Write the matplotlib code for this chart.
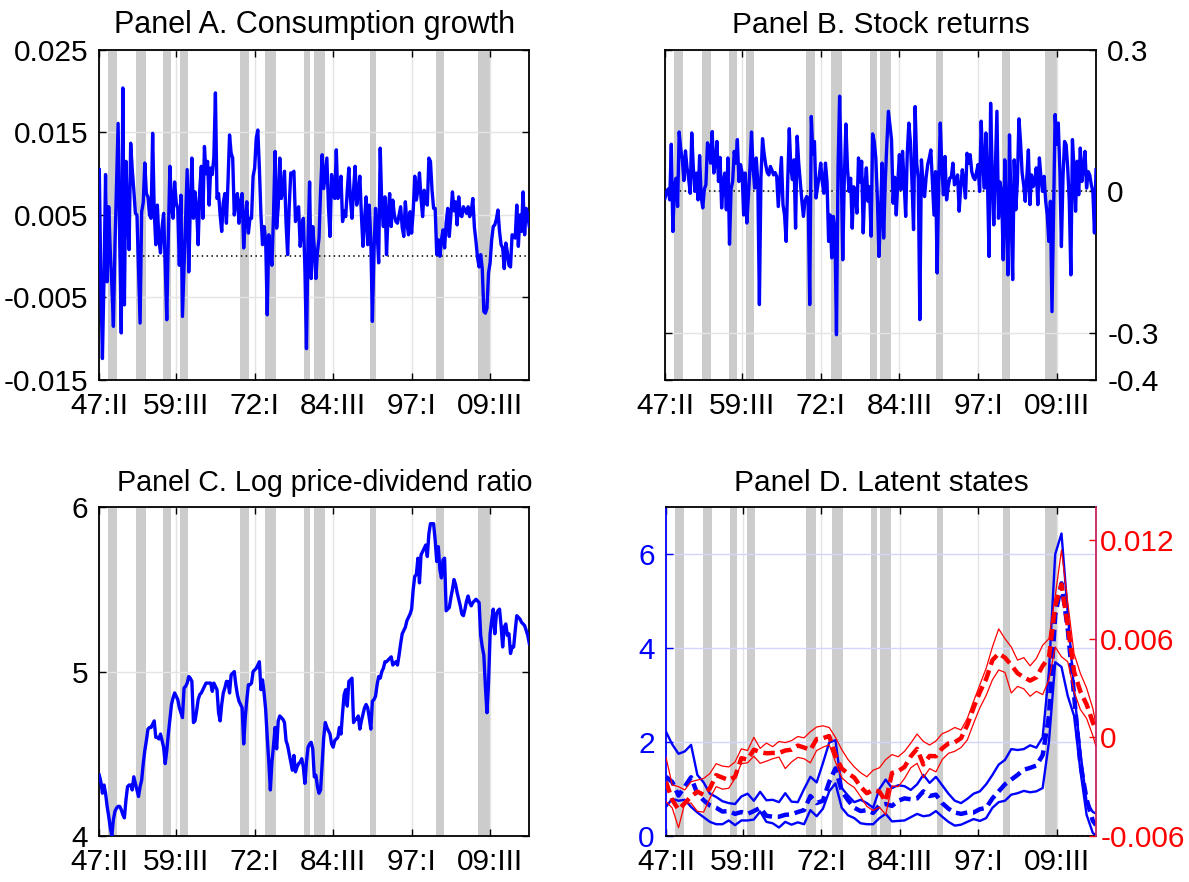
import numpy as np
import matplotlib
matplotlib.use('Agg')
import matplotlib.pyplot as plt

plt.rcParams['font.family'] = ['Liberation Sans', 'DejaVu Sans']

# time axis: quarter index, 0 = 1947:II
tick_pos = [0, 49, 99, 149, 199, 249]
tick_lab = ['47:II', '59:III', '72:I', '84:III', '97:I', '09:III']

# NBER recessions (peak / trough quarter index)
rec_start = [6, 24, 41, 52, 90, 106, 131, 137, 173, 215, 242]
rec_end = [10, 28, 44, 55, 94, 111, 133, 142, 175, 218, 248]

# Panel A, consumption growth (x 1e-3)
cons_growth = np.array([
    10.5, -3.0, -12.4, -2.7, 9.9, -3.1, 6.0, 0.6, -3.5, -8.5,
    1.5, 9.0, 16.1, 2.0, -9.3, 20.4, -5.9, 11.5, 5.0, 0.8,
    13.7, 10.5, 8.0, 5.2, 5.0, -1.5, -8.1, 5.4, 6.5, 11.3,
    7.6, 7.2, 5.0, 4.6, 14.9, 5.5, 1.4, 6.2, 2.0, 0.4,
    3.5, 5.2, -1.0, -7.7, 2.5, 10.9, 6.0, 4.6, 9.0, 6.5,
    5.8, -1.1, 7.4, -7.3, -1.5, 4.5, 10.5, -1.9, 6.0, 11.9,
    4.6, 7.8, 5.8, 1.4, 8.0, 10.9, 4.6, 13.3, 10.0, 11.5,
    6.2, 10.7, 9.9, 12.0, 19.8, 7.0, 7.6, 5.0, 3.0, 6.5,
    7.6, 4.0, 9.0, 14.7, 12.5, 11.9, 5.0, 6.5, 7.6, 4.0,
    6.5, 7.6, 1.0, 4.5, 6.6, 2.8, 4.6, 4.6, 9.7, 10.7,
    14.3, 15.3, 10.7, 5.0, 1.4, 3.6, 2.0, -7.1, 2.6, 0.5,
    -1.1, 5.0, 12.7, 3.4, 6.0, 11.9, 7.0, 8.0, 10.3, 4.0,
    0.2, 6.0, 10.1, 10.0, 10.3, 4.2, 5.5, 6.0, 1.2, 3.5,
    4.6, -1.5, -11.2, 2.0, 9.0, -2.7, 3.6, 1.0, -2.7, 0.5,
    2.2, 8.0, 12.3, 8.2, 10.0, 11.9, 6.0, 2.4, 9.9, 7.5,
    7.0, 12.9, 7.0, 8.0, 9.7, 4.2, 5.5, 4.8, 8.0, 10.7,
    7.0, 4.6, 8.0, 10.9, 6.2, 7.5, 9.7, 5.0, 1.2, 4.5,
    7.2, 1.4, 6.2, 2.0, -7.9, 0.5, 5.8, 3.0, -0.8, 13.1,
    6.0, 3.6, 7.2, 0.2, 5.0, 7.6, 3.6, 6.8, 5.0, 4.2,
    4.0, 5.0, 6.0, 3.5, 2.4, 6.6, 4.0, 2.6, 5.4, 2.8,
    5.5, 9.7, 6.8, 8.0, 10.1, 7.0, 4.8, 8.0, 6.5, 6.2,
    11.9, 11.5, 8.0, 5.8, 5.8, 0.2, 2.0, 0.0, 2.0, 3.2,
    1.0, 4.0, 5.8, 2.4, 5.0, 7.8, 5.5, 6.6, 3.8, 7.2,
    5.0, 4.8, 6.0, 5.6, 5.2, 6.0, 4.8, 5.5, 7.0, 3.5,
    1.8, -0.2, -1.3, 0.2, -1.5, -6.7, -6.9, -6.3, -2.0, -0.8,
    2.0, 3.6, 3.8, 4.5, 5.6, 3.0, 1.4, 1.0, -1.5, 1.6,
    0.5, -1.1, -1.3, 2.6, 2.5, 2.2, 6.2, 1.2, 5.0, 3.0,
    7.8, 2.6, 5.8, 5.0, 3.6]) / 1000

# Panel B, stock returns (percent)
stock_ret = np.array([
    -1.4, 0.0, 0.5, -1.8, 10.0, -8.5, 1.0, 2.8, -3.2, 12.6,
    9.0, 6.7, 2.3, 8.6, 5.0, 2.8, -0.4, 12.4, 5.0, 0.0,
    3.9, -1.8, 7.6, -1.1, -3.5, 0.5, 1.4, 10.3, 9.2, 6.0,
    12.7, 3.9, 6.0, 10.6, 2.1, 7.2, -3.5, 2.0, 3.9, -3.9,
    7.1, -11.2, 0.5, 2.1, 8.5, 6.0, 11.0, 2.1, 5.7, 4.0,
    -5.0, 3.9, -6.7, -1.1, 5.0, 12.6, 5.0, 0.7, 7.1, 2.0,
    -24.0, 3.0, 11.2, 8.0, 5.7, 4.0, 3.5, 5.3, 4.5, 3.5,
    4.0, 3.2, -3.2, 2.0, 7.2, -2.8, -5.0, -10.6, 2.0, 13.3,
    5.0, 2.5, 6.7, -7.8, 11.7, 6.0, 2.1, -2.0, -5.3, -2.0,
    -1.1, -1.4, -24.0, 15.9, 8.0, 10.6, -1.4, 1.0, 3.2, 6.0,
    2.0, -0.4, 6.0, 2.0, -10.6, -5.0, -14.1, -5.3, -8.0, -30.4,
    5.0, 20.2, 5.0, -14.5, 3.0, 14.3, 5.0, 0.0, 2.8, -7.8,
    1.0, 0.0, -4.6, 7.1, 2.0, 6.4, -8.8, 1.0, 5.0, -2.1,
    1.0, -9.5, 12.2, 10.6, 7.1, -1.4, -13.8, -5.0, 6.0, -9.9,
    2.0, 9.9, 17.0, 14.0, 11.0, -2.5, 3.0, -5.0, 2.0, 7.8,
    0.4, 8.5, 2.0, -5.3, 8.0, 14.5, 10.6, 2.0, -8.1, 18.0,
    6.0, 2.8, -27.2, 6.7, 2.0, -1.1, 3.0, 5.7, 7.1, 8.8,
    2.0, -5.0, 4.2, -17.3, 2.0, 14.5, 5.0, -0.7, 7.4, -1.8,
    1.0, 2.8, 3.0, 6.0, 1.4, 2.0, 3.5, -4.2, 1.0, 4.6,
    2.0, -1.4, 8.1, 6.0, 7.8, 4.2, 3.0, 2.5, 4.0, 5.7,
    0.0, 14.9, 6.0, 0.7, 12.4, 2.1, -13.8, 18.7, 3.5, -7.1,
    5.0, 17.0, -5.7, 2.0, -0.4, -14.5, 6.7, -5.0, -17.7, 12.0,
    -4.2, -18.7, 6.7, -3.9, 2.0, 15.4, 10.6, 4.0, 1.4, -2.1,
    3.0, 8.8, -2.8, 3.5, 1.0, 1.8, 5.0, -2.8, 7.1, 3.0,
    0.0, 3.2, -2.1, -5.0, -10.6, -2.1, -25.5, -5.0, 16.3, 10.0,
    14.5, 4.6, -11.7, 3.0, 10.6, 9.9, 5.0, -2.0, -17.7, 11.0,
    5.0, -4.2, 6.4, -0.7, 9.2, 2.1, 5.0, 8.5, 0.7, 4.2,
    3.5, 1.4, 0.0, -8.8, 4.6]) / 100

# Panel C, log price-dividend ratio
log_pd = np.array([
    4.37, 4.33, 4.26, 4.31, 4.26, 4.18, 4.12, 4.05, 4.00, 4.10,
    4.15, 4.17, 4.18, 4.18, 4.16, 4.13, 4.11, 4.22, 4.30, 4.31,
    4.31, 4.28, 4.36, 4.32, 4.28, 4.24, 4.30, 4.34, 4.44, 4.52,
    4.58, 4.65, 4.66, 4.66, 4.68, 4.70, 4.60, 4.60, 4.59, 4.62,
    4.58, 4.54, 4.44, 4.52, 4.62, 4.71, 4.80, 4.84, 4.87, 4.85,
    4.83, 4.78, 4.75, 4.72, 4.90, 4.91, 4.93, 4.97, 4.96, 4.94,
    4.69, 4.70, 4.76, 4.83, 4.86, 4.87, 4.89, 4.91, 4.93, 4.93,
    4.93, 4.93, 4.88, 4.93, 4.91, 4.89, 4.75, 4.70, 4.80, 4.87,
    4.90, 4.94, 4.94, 4.87, 4.98, 4.99, 5.00, 4.92, 4.86, 4.82,
    4.80, 4.78, 4.56, 4.72, 4.83, 4.92, 4.92, 4.93, 5.00, 5.01,
    5.02, 5.04, 5.06, 4.89, 4.95, 4.87, 4.77, 4.60, 4.45, 4.28,
    4.45, 4.55, 4.66, 4.53, 4.70, 4.73, 4.72, 4.71, 4.69, 4.58,
    4.55, 4.50, 4.45, 4.40, 4.49, 4.39, 4.42, 4.44, 4.45, 4.47,
    4.42, 4.32, 4.45, 4.54, 4.56, 4.57, 4.53, 4.36, 4.37, 4.30,
    4.26, 4.28, 4.44, 4.60, 4.69, 4.66, 4.64, 4.62, 4.56, 4.54,
    4.58, 4.59, 4.60, 4.66, 4.62, 4.75, 4.86, 4.89, 4.79, 4.94,
    4.95, 4.96, 4.69, 4.71, 4.71, 4.73, 4.65, 4.70, 4.74, 4.78,
    4.80, 4.78, 4.72, 4.65, 4.82, 4.83, 4.85, 4.92, 4.97, 4.96,
    5.00, 5.02, 5.06, 5.06, 5.07, 5.08, 5.09, 5.04, 5.05, 5.06,
    5.04, 5.10, 5.17, 5.23, 5.25, 5.27, 5.31, 5.33, 5.35, 5.38,
    5.50, 5.58, 5.59, 5.69, 5.54, 5.71, 5.73, 5.75, 5.77, 5.70,
    5.84, 5.90, 5.90, 5.90, 5.80, 5.67, 5.76, 5.62, 5.57, 5.68,
    5.69, 5.37, 5.38, 5.39, 5.45, 5.50, 5.56, 5.53, 5.48, 5.44,
    5.40, 5.35, 5.34, 5.38, 5.43, 5.46, 5.42, 5.40, 5.42, 5.43,
    5.44, 5.43, 5.42, 5.22, 5.15, 5.10, 4.91, 4.75, 4.93, 5.23,
    5.31, 5.38, 5.23, 5.35, 5.37, 5.38, 5.28, 5.15, 5.27, 5.29,
    5.22, 5.23, 5.11, 5.15, 5.15, 5.25, 5.34, 5.33, 5.32, 5.30,
    5.29, 5.28, 5.25, 5.22, 5.17])

# Panel D, latent states, read every 4th quarter
qd = np.r_[np.arange(0, 273, 4), 274]
vol_hi = [2.22, 1.95, 1.75, 1.80, 1.94, 1.30, 1.14, 0.90, 0.83, 0.74,
          0.70, 0.68, 0.84, 0.90, 0.75, 0.94, 0.76, 0.77, 0.72, 0.91,
          0.73, 0.72, 1.00, 1.26, 1.14, 1.55, 1.99, 2.04, 1.02, 0.86,
          0.72, 0.77, 0.70, 0.60, 1.00, 1.20, 1.02, 1.08, 1.06, 0.98,
          1.10, 1.30, 1.13, 1.26, 1.08, 0.90, 0.75, 0.70, 0.79, 0.90,
          0.95, 1.10, 1.30, 1.52, 1.62, 1.85, 1.83, 1.85, 1.93, 1.88,
          2.10, 3.50, 6.00, 6.44, 4.75, 3.10, 1.80, 0.72, 0.51, 0.48]
vol_med = [1.26, 1.15, 0.86, 1.05, 1.25, 0.90, 0.76, 0.65, 0.60, 0.52,
           0.53, 0.47, 0.51, 0.47, 0.53, 0.60, 0.43, 0.41, 0.41, 0.45,
           0.46, 0.51, 0.55, 0.85, 0.70, 0.75, 1.15, 1.44, 0.96, 0.76,
           0.60, 0.53, 0.55, 0.49, 0.65, 0.68, 0.64, 0.75, 0.80, 0.78,
           0.80, 0.95, 0.85, 0.88, 0.70, 0.58, 0.50, 0.47, 0.50, 0.50,
           0.57, 0.60, 0.80, 0.95, 1.10, 1.20, 1.30, 1.41, 1.45, 1.50,
           1.72, 2.55, 4.70, 5.38, 4.40, 3.00, 1.55, 0.78, 0.32, 0.23]
vol_lo = [0.62, 0.79, 0.75, 0.77, 0.62, 0.50, 0.40, 0.30, 0.25, 0.25,
          0.33, 0.23, 0.33, 0.33, 0.35, 0.52, 0.30, 0.27, 0.18, 0.30,
          0.24, 0.29, 0.25, 0.55, 0.42, 0.58, 0.95, 1.12, 0.60, 0.44,
          0.38, 0.27, 0.25, 0.25, 0.38, 0.47, 0.31, 0.32, 0.33, 0.40,
          0.47, 0.42, 0.44, 0.53, 0.41, 0.30, 0.22, 0.24, 0.30, 0.36,
          0.32, 0.38, 0.60, 0.72, 0.75, 0.88, 0.91, 0.96, 0.93, 0.95,
          1.02, 2.00, 3.70, 3.60, 2.98, 2.56, 1.40, 0.45, 0.06, 0.02]
# expected growth state (x 1e-3)
mu_hi = [-1.2, -2.9, -3.0, -3.2, -2.7, -2.6, -2.5, -2.2, -1.6, -1.75,
         -1.8, -1.5, -0.7, -0.8, 0.0, -0.67, -0.35, -0.57, -0.25, -0.32,
         -0.2, 0.05, -0.03, 0.34, 0.63, 0.70, 0.60, 0.0, -0.75, -1.35,
         -1.8, -2.15, -2.4, -2.0, -1.85, -1.35, -1.05, -1.18, -0.85, -0.35,
         0.2, -0.25, -0.47, -0.22, 0.22, 0.38, 0.6, 0.45, 1.15, 2.2,
         3.2, 4.2, 5.5, 6.6, 6.0, 5.5, 4.7, 4.85, 4.35, 4.8,
         5.6, 6.0, 8.6, 11.4, 8.2, 5.1, 3.9, 3.0, 1.75, 0.75]
mu_med = [-2.7, -3.8, -4.4, -4.0, -3.6, -3.3, -3.5, -3.1, -2.3, -2.45,
          -2.6, -2.4, -1.27, -1.35, -0.75, -0.9, -0.97, -0.95, -0.95, -0.8,
          -0.75, -0.5, -0.62, -0.77, -0.1, -0.05, 0.08, -1.1, -1.9, -2.2,
          -2.45, -3.0, -3.4, -3.2, -3.3, -3.9, -2.17, -2.05, -1.8, -1.15,
          -0.7, -1.65, -1.13, -1.15, -0.67, -0.37, -0.3, -0.05, 0.75, 1.8,
          2.75, 3.55, 4.7, 5.1, 4.85, 4.4, 3.9, 3.65, 3.45, 3.65,
          4.35, 4.85, 8.0, 9.3, 6.8, 4.0, 2.8, 2.0, 0.9, 0.44]
mu_lo = [-3.9, -4.3, -5.5, -4.0, -4.0, -4.5, -4.55, -3.7, -3.0, -3.15,
         -3.1, -2.5, -1.6, -1.55, -1.15, -1.58, -1.45, -1.3, -1.2, -1.9,
         -1.5, -1.22, -1.3, -1.55, -0.8, -0.6, -0.45, -1.5, -2.45, -2.8,
         -3.05, -3.6, -4.2, -4.45, -4.25, -4.7, -2.95, -3.0, -2.5, -1.85,
         -1.58, -2.45, -1.9, -2.1, -1.35, -0.97, -0.85, -0.62, -0.16, 0.85,
         1.8, 2.55, 3.5, 4.1, 3.95, 2.7, 3.1, 2.95, 2.5, 2.8,
         2.6, 3.5, 5.5, 4.9, 4.6, 2.8, 1.7, 1.15, 0.1, -0.57]

FS = 21.5
q = np.arange(len(cons_growth))


def setup(ax, title, gridcol='#e4e4e4', tsize=FS):
    for s, e in zip(rec_start, rec_end):
        ax.axvspan(s - 0.5, e + 1.5, color='#cccccc', lw=0, zorder=0)
    ax.set_xlim(0, 274)
    ax.set_xticks(tick_pos)
    ax.set_xticklabels(tick_lab)
    ax.xaxis.grid(True, color='#e4e4e4', lw=1)
    ax.yaxis.grid(True, color=gridcol, lw=1)
    ax.set_axisbelow(True)
    ax.tick_params(direction='in', length=5, width=1, top=True, right=True,
                   labelsize=FS, pad=8)
    ax.tick_params(axis='x', pad=9)
    ax.set_title(title, fontsize=tsize, pad=12)
    for sp in ax.spines.values():
        sp.set_linewidth(1.3)


fig = plt.figure(figsize=(11.89, 8.82), dpi=100)
axA = fig.add_axes([0.0835, 0.5692, 0.3617, 0.3741])
axB = fig.add_axes([0.5593, 0.5692, 0.3625, 0.3741])
axC = fig.add_axes([0.0835, 0.0522, 0.3617, 0.3727])
axD = fig.add_axes([0.5601, 0.0522, 0.3617, 0.3727])

# A
setup(axA, 'Panel A. Consumption growth', tsize=22)
axA.axhline(0, color='k', lw=1.1, ls=(0, (1, 2.2)), zorder=1)
axA.plot(q, cons_growth, color='#0000ff', lw=2.4, zorder=3)
axA.set_ylim(-0.015, 0.025)
axA.set_yticks([-0.015, -0.005, 0.005, 0.015, 0.025])
axA.set_yticklabels(['-0.015', '-0.005', '0.005', '0.015', '0.025'])

# B
setup(axB, 'Panel B. Stock returns')
axB.axhline(0, color='k', lw=1.1, ls=(0, (1, 2.2)), zorder=1)
axB.plot(q, stock_ret, color='#0000ff', lw=2.4, zorder=3)
axB.set_ylim(-0.4, 0.3)
axB.set_yticks([-0.4, -0.3, 0, 0.3])
axB.set_yticklabels(['-0.4', '-0.3', '0', '0.3'])
axB.tick_params(axis='y', labelleft=False, labelright=True)

# C
setup(axC, 'Panel C. Log price-dividend ratio', tsize=20.6)
axC.title.set_position((0.525, 1.0))
axC.plot(q, log_pd, color='#0000ff', lw=2.4, zorder=3)
axC.set_ylim(4, 6)
axC.set_yticks([4, 5, 6])

# D
setup(axD, 'Panel D. Latent states', gridcol='#d4d4ff')
axD.set_ylim(0, 7)
axD.set_yticks([0, 2, 4, 6])
axD.tick_params(axis='y', colors='blue', labelcolor='blue')
axD.spines['left'].set_color('blue')
axD.spines['right'].set_visible(False)
axD.axhline(0, color='k', lw=1.1, ls=(0, (1, 2.2)), zorder=1)
axD.plot(qd, vol_hi, color='blue', lw=1.7, zorder=3)
axD.plot(qd, vol_lo, color='blue', lw=1.7, zorder=3)
axD.plot(qd, vol_med, color='blue', lw=3.2, dashes=(2.6, 1.3), zorder=3)

axD2 = axD.twinx()
axD2.set_ylim(-0.006, 0.014)
axD2.set_yticks([-0.006, 0, 0.006, 0.012])
axD2.set_yticklabels(['-0.006', '0', '0.006', '0.012'])
axD2.tick_params(axis='y', direction='in', length=5, width=1, colors='red',
                 labelcolor='red', labelsize=FS, pad=3)
axD2.spines['left'].set_visible(False)
axD2.spines['right'].set_color('#c8205e')
axD2.spines['right'].set_linewidth(1.3)
for sp in ['top', 'bottom']:
    axD2.spines[sp].set_visible(False)
mu_hi_ = np.array(mu_hi) / 1000
mu_med_ = np.array(mu_med) / 1000
mu_lo_ = np.array(mu_lo) / 1000
axD2.plot(qd, mu_hi_, color='red', lw=0.9)
axD2.plot(qd, mu_lo_, color='red', lw=0.9)
axD2.plot(qd, mu_med_, color='red', lw=3.2, dashes=(2.6, 1.3))

fig.savefig('out.png', dpi=100)
